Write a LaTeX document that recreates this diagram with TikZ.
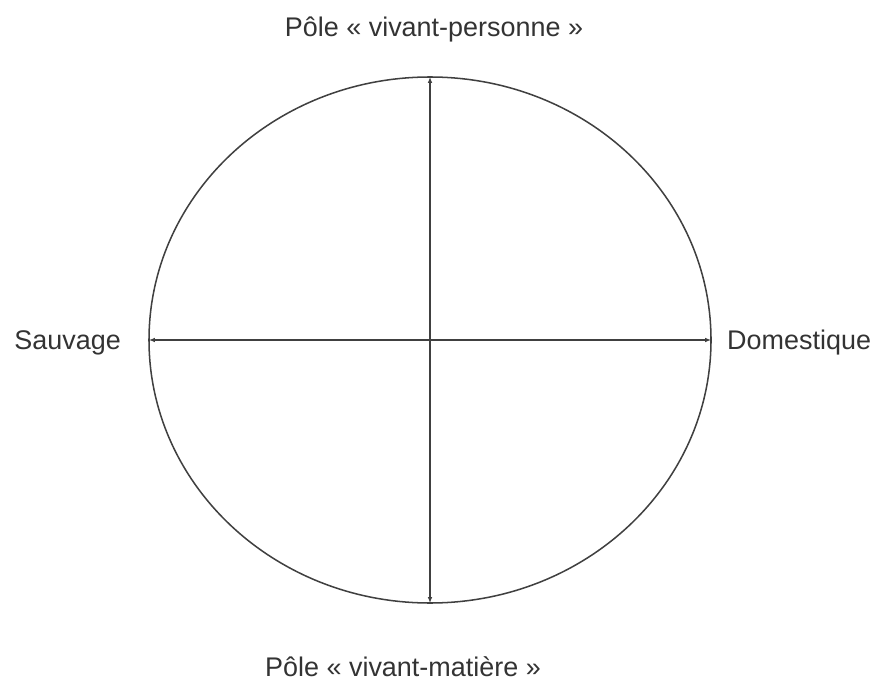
\documentclass[tikz,border=0pt]{standalone}
\usepackage{fontspec}
\setmainfont{Liberation Sans}
\usetikzlibrary{arrows.meta,positioning}

\begin{document}
\begin{tikzpicture}[
  x=0.03cm, y=-0.03cm,
  lbl/.style={font=\fontsize{23}{27}\selectfont, text=black!80, inner sep=0pt},
  axe/.style={draw=black!75, line width=1.3pt, {Latex[length=5pt,width=4pt]}-{Latex[length=5pt,width=4pt]}},
  bord/.style={draw=black!75, line width=1.3pt}
]
\useasboundingbox (0,0) rectangle (877,684);
% ellipse and its four ends
\coordinate (centre) at (430,340);
\coordinate (haut) at (430,77);
\coordinate (bas) at (430,603);
\coordinate (gauche) at (149,340);
\coordinate (droite) at (711,340);
\draw[bord] (centre) ellipse [x radius=281, y radius=263];
\draw[axe] (haut) -- (bas);
\draw[axe] (gauche) -- (droite);
% labels
\node[lbl] (perso) at (434,29) {Pôle « vivant-personne »};
\node[lbl] (mat) at (403,667) {Pôle « vivant-matière »};
\node[lbl, anchor=east] (sauv) at (121,343) {Sauvage};
\node[lbl, anchor=west] (dom) at (727,343) {Domestique};
\end{tikzpicture}
\end{document}
